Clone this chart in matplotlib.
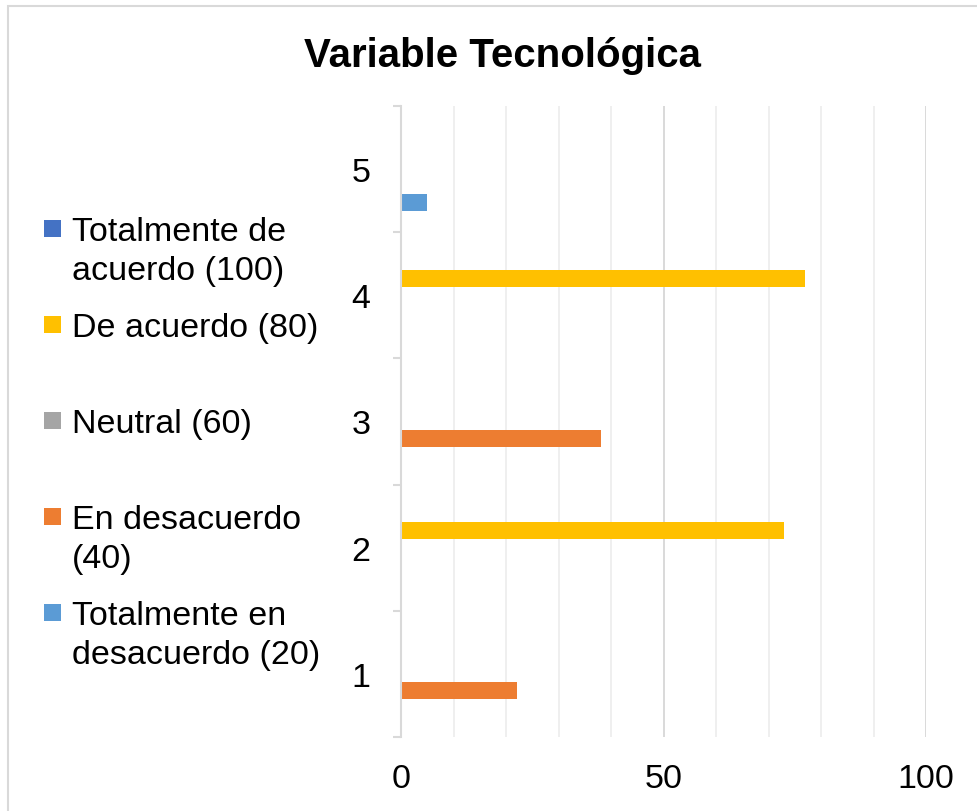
import numpy as np
import matplotlib
matplotlib.use("Agg")
import matplotlib.pyplot as plt
from matplotlib.patches import Rectangle
from matplotlib.ticker import MultipleLocator, FixedLocator

plt.rcParams['font.family'] = ['Liberation Sans', 'DejaVu Sans']

# ---- data ----
categories = [1, 2, 3, 4, 5]
series_names = ["Totalmente en desacuerdo (20)", "En desacuerdo (40)", "Neutral (60)",
                "De acuerdo (80)", "Totalmente de acuerdo (100)"]
tot_desacuerdo = [0, 0, 0, 0, 5]
en_desacuerdo = [22, 0, 38, 0, 0]
neutral = [0, 0, 0, 0, 0]
de_acuerdo = [0, 73, 0, 77, 0]
tot_acuerdo = [0, 0, 0, 0, 0]
series_values = [tot_desacuerdo, en_desacuerdo, neutral, de_acuerdo, tot_acuerdo]
colors = ["#5B9BD5", "#ED7D31", "#A5A5A5", "#FFC000", "#4472C4"]
x_ticks = [0, 50, 100]
title = "Variable Tecnológica"

W, H = 977, 812
fig = plt.figure(figsize=(W / 100, H / 100), dpi=100)

def fx(px):
    return px / W

def fy(py):
    return 1 - py / H

ax = fig.add_axes([fx(401), fy(738), (926 - 401) / W, (738 - 107) / H])

bar_h = 0.134
cats = np.array(categories, dtype=float)
for i, (vals, col) in enumerate(zip(series_values, colors)):
    ax.barh(cats + (i - 2) * bar_h, vals, height=bar_h, color=col, zorder=3)

ax.set_xlim(0, 100)
ax.set_ylim(0.5, 5.5)

for s in ("top", "right", "bottom"):
    ax.spines[s].set_visible(False)
ax.spines["left"].set_color("#D9D9D9")
ax.spines["left"].set_linewidth(1.5)
ax.spines["left"].set_zorder(4)

ax.xaxis.set_major_locator(FixedLocator(x_ticks))
ax.xaxis.set_minor_locator(MultipleLocator(10))
ax.grid(axis="x", which="major", color="#D9D9D9", lw=1.4, zorder=1)
ax.grid(axis="x", which="minor", color="#EFEFEF", lw=1.4, zorder=0)
ax.tick_params(axis="x", which="both", length=0, labelsize=24.5, pad=19)

ax.yaxis.set_major_locator(FixedLocator(categories))
ax.yaxis.set_minor_locator(FixedLocator(np.arange(0.5, 5.6, 1.0)))
ax.tick_params(axis="y", which="major", length=0, labelsize=24.5, pad=22)
ax.tick_params(axis="y", which="minor", length=6, width=1.5, color="#D9D9D9", direction="out")

fig.text(fx(502), fy(67), title, ha="center", va="baseline",
         fontsize=29, fontweight="bold")

# legend (manual, Excel-like layout)
legend_items = [
    (4, ["Totalmente de", "acuerdo (100)"], 229),
    (3, ["De acuerdo (80)"], 325),
    (2, ["Neutral (60)"], 421),
    (1, ["En desacuerdo", "(40)"], 517),
    (0, ["Totalmente en", "desacuerdo (20)"], 613),
]
for idx, lines, yc in legend_items:
    fig.add_artist(Rectangle((fx(44), fy(yc + 8.5)), 17 / W, 17 / H,
                             transform=fig.transFigure, color=colors[idx], lw=0))
    for j, line in enumerate(lines):
        fig.text(fx(72), fy(yc + 12 + 39 * j), line, ha="left", va="baseline",
                 fontsize=24.5)

fig.add_artist(Rectangle((fx(8), -0.05), 1.2, 1 - 7 / H + 0.05,
                         transform=fig.transFigure, fill=False,
                         ec="#D9D9D9", lw=1.5))

fig.savefig("out.png", dpi=100)
